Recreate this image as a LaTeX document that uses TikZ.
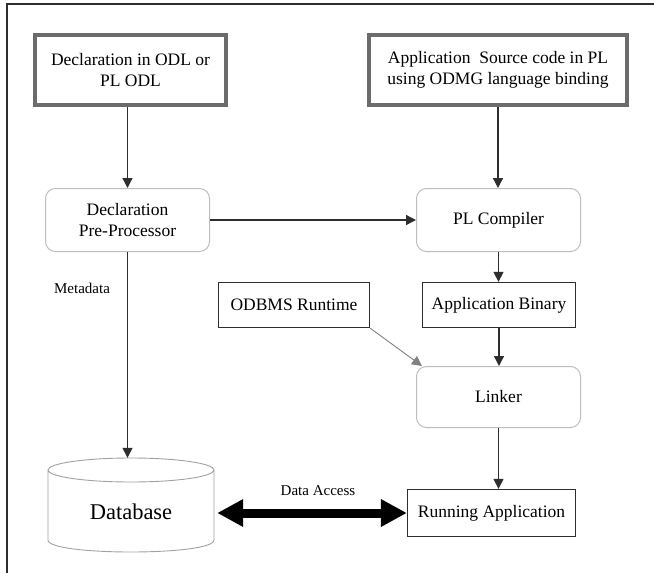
\documentclass[tikz,border=0pt]{standalone}
\usepackage{fontspec}
\setmainfont{Liberation Serif}
\usetikzlibrary{arrows.meta}
\definecolor{heavygray}{HTML}{6B6B6B}
\definecolor{softgray}{HTML}{BDBDBD}
\definecolor{inkgray}{HTML}{2E2E2E}
\begin{document}
\begin{tikzpicture}[x=1pt,y=-1pt,
  every node/.style={font=\fontsize{17.5}{21}\selectfont, align=center, inner sep=0pt, text=black},
  srcbox/.style={draw=heavygray, line width=4pt, minimum height=70pt},
  roundbox/.style={draw=softgray, line width=1pt, rounded corners=10pt, minimum width=164pt},
  plainbox/.style={draw=inkgray, line width=1.3pt, minimum height=45pt},
  arr/.style={draw=inkgray, line width=1.3pt, -{Triangle[width=10pt,length=10pt]}},
  thinarr/.style={draw=gray, line width=0.9pt, -{Triangle[width=10pt,length=10pt]}},
  smalltext/.style={font=\fontsize{15}{18}\selectfont}]
\useasboundingbox (0,0) rectangle (654,573);

% frame edges
\draw[line width=2.5pt, color=inkgray] (7,573) -- (7,4) -- (654,4);

% source inputs
\node[srcbox, minimum width=191pt] (declodl) at (130.5,70) {Declaration in ODL or\\PL ODL};
\node[srcbox, minimum width=258pt] (appsrc) at (498,70) {Application\ \ Source code in PL\\using ODMG language binding};

% processing stages
\node[roundbox, minimum height=63pt] (declpp) at (127.5,220) {Declaration\\Pre-Processor};
\node[roundbox, minimum height=63pt] (plc) at (498.5,220) {PL Compiler};
\node[plainbox, minimum width=151pt] (odbms) at (294,305) {ODBMS Runtime};
\node[plainbox, minimum width=153pt] (appbin) at (499,305) {Application Binary};
\node[roundbox, minimum height=61pt] (linker) at (498.5,397) {Linker};
\node[plainbox, minimum width=168pt, minimum height=47pt] (runapp) at (491.5,513) {Running Application};

% database cylinder
\node[minimum width=166pt, minimum height=94pt] (dbshape) at (131,505) {};
\draw[draw=softgray!85!black, line width=0.9pt]
  (131,470) ellipse [x radius=83, y radius=12]
  (48,470) -- (48,540) .. controls (48,556) and (214,556) .. (214,540) -- (214,470);
\node[font=\fontsize{22.5}{26}\selectfont] (dbtext) at (131,512) {Database};

% labels
\node[smalltext] (metalabel) at (82,288) {Metadata};
\node[smalltext] (accesslabel) at (318,491) {Data Access};

% connectors
\draw[arr] (declodl.south -| declpp.north) -- (declpp.north);
\draw[arr] (appsrc.south) -- (appsrc.south |- plc.north);
\draw[arr] (declpp.east) -- (plc.west);
\draw[arr] (plc.south) -- (plc.south |- appbin.north);
\draw[arr] (appbin.south) -- (appbin.south |- linker.north);
\draw[thinarr] (odbms.south east) -- ([xshift=6pt]linker.north west);
\draw[arr] (linker.south) -- (linker.south |- runapp.north);
\draw[arr] (declpp.south) -- (declpp.south |- dbshape.north);
\draw[line width=9pt, {Triangle[width=26pt,length=26pt]}-{Triangle[width=26pt,length=26pt]}]
  ([xshift=3pt]dbshape.east |- runapp.west) -- (runapp.west);
\end{tikzpicture}
\end{document}
